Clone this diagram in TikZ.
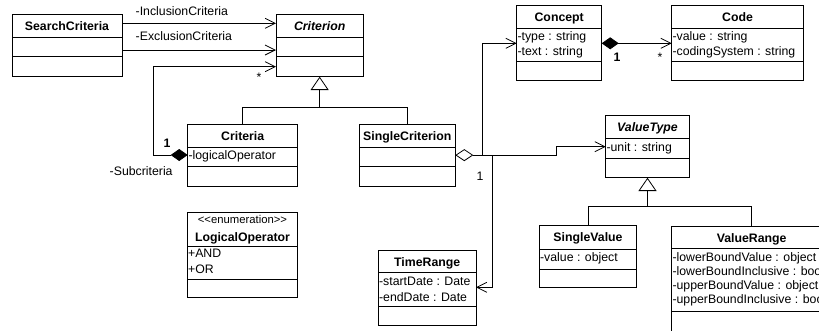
\documentclass[tikz,border=0pt]{standalone}
\usepackage{fontspec}
\setmainfont{Liberation Sans}
\usetikzlibrary{arrows.meta,calc}

\newcommand\txtsize{\fontsize{12.3}{14}\selectfont}

\tikzset{
  cls/.style={draw=black, line width=0.8pt, anchor=north west, inner sep=0pt, outer sep=0pt},
  ttl/.style={font=\txtsize\bfseries, inner sep=0pt, anchor=base},
  ttlit/.style={font=\txtsize\bfseries\itshape, inner sep=0pt, anchor=base},
  attr/.style={font=\txtsize, inner sep=0pt, anchor=base west},
  stereo/.style={font=\fontsize{11.3}{12}\selectfont, inner sep=0pt, anchor=base},
  lbl/.style={font=\txtsize, inner sep=0pt, anchor=base west},
  lblb/.style={font=\txtsize\bfseries, inner sep=0pt, anchor=base west},
  conn/.style={line width=0.8pt, draw=black},
  assoc/.style={conn, -{Straight Barb[length=10pt,width=10pt]}},
  gen/.style={conn, -{Triangle[open,length=13.3pt,width=18pt,fill=white]}},
  comp/.style={conn, {Diamond[length=17pt,width=12pt]}-{Straight Barb[length=10pt,width=10pt]}},
  agg/.style={conn, {Diamond[open,length=18pt,width=12pt,fill=white]}-{Straight Barb[length=10pt,width=10pt]}},
}

% class box: name, x1, y1, x2, y2, first and second compartment line
\newcommand\umlclass[7]{%
  \node[cls, minimum width={#4pt-#2pt}, minimum height={#5pt-#3pt}] (#1) at (#2,#3) {};
  \draw[conn] (#2,#6) -- (#4,#6);
  \draw[conn] (#2,#7) -- (#4,#7);
}

\begin{document}
\begin{tikzpicture}[x=1pt,y=-1pt]
\useasboundingbox (0,0) rectangle (819,330);
\clip (0,0) rectangle (819,330);

% ---- classes ----
\umlclass{sc}{12}{14.3}{122}{76.7}{37.3}{56.7}
\node[ttl] (scT) at (67,30.3) {SearchCriteria};

\umlclass{crit}{276}{14.3}{363.3}{76.7}{37.3}{56.7}
\node[ttlit] (critT) at (319.65,30.3) {Criterion};

\umlclass{concept}{516.7}{5}{601.7}{80.7}{28.3}{61.7}
\node[ttl] (conceptT) at (559.2,21) {Concept};
\node[attr] (conceptA1) at (517.3,40.2) {-type : string};
\node[attr] (conceptA2) at (517.3,55) {-text : string};

\umlclass{code}{671.7}{5}{803.3}{80.7}{28.3}{61.7}
\node[ttl] (codeT) at (737.5,21) {Code};
\node[attr] (codeA1) at (672.3,40.2) {-value : string};
\node[attr] (codeA2) at (672.3,55) {-codingSystem : string};

\umlclass{criteria}{187.7}{124.3}{297.7}{186}{147.3}{166.7}
\node[ttl] (criteriaT) at (242.7,140.3) {Criteria};
\node[attr] (criteriaA1) at (188.3,159.4) {-logicalOperator};

\umlclass{single}{359.3}{124.3}{455.3}{186}{147.3}{166.7}
\node[ttl] (singleT) at (407.3,140.3) {SingleCriterion};

\umlclass{vtype}{605.7}{115.7}{689.3}{177.7}{138.3}{158.3}
\node[ttlit] (vtypeT) at (647.5,131.5) {ValueType};
\node[attr] (vtypeA1) at (606.3,151) {-unit : string};

\umlclass{logop}{187.3}{212.7}{297.7}{297.7}{246}{279}
\node[stereo] (logopS) at (242.5,223.8) {<{}<enumeration>{}>};
\node[ttl] (logopT) at (242.5,241) {LogicalOperator};
\node[attr] (logopA1) at (187.9,257.8) {+AND};
\node[attr] (logopA2) at (187.9,273.5) {+OR};

\umlclass{trange}{378.3}{250}{476}{325}{272.7}{306}
\node[ttl] (trangeT) at (427.2,266.3) {TimeRange};
\node[attr] (trangeA1) at (378.9,285.4) {-startDate : Date};
\node[attr] (trangeA2) at (378.9,301) {-endDate : Date};

\umlclass{svalue}{539.3}{225.7}{636.7}{287.7}{249.3}{269.3}
\node[ttl] (svalueT) at (588,241.5) {SingleValue};
\node[attr] (svalueA1) at (539.9,261) {-value : object};

\umlclass{vrange}{671.7}{226.7}{831.7}{360}{248.3}{311.7}
\node[ttl] (vrangeT) at (751.7,242.5) {ValueRange};
\node[attr] (vrangeA1) at (672.3,261) {-lowerBoundValue : object};
\node[attr] (vrangeA2) at (672.3,275.3) {-lowerBoundInclusive : boolean};
\node[attr] (vrangeA3) at (672.3,289.5) {-upperBoundValue : object};
\node[attr] (vrangeA4) at (672.3,303.7) {-upperBoundInclusive : boolean};

% ---- associations from SearchCriteria ----
\draw[assoc] ($(sc.north east)+(0,9)$) -- ($(crit.north west)+(0,9)$);
\draw[assoc] ($(sc.north east)+(0,35.7)$) -- ($(crit.north west)+(0,35.7)$);
\node[lbl] (inclL) at (135.5,15.4) {-InclusionCriteria};
\node[lbl] (exclL) at (135.5,40) {-ExclusionCriteria};

% ---- Criteria composed of sub-criteria ----
\draw[comp] ($(criteria.north west)+(0,30.7)$) -- ++(-34.4,0) |- ($(crit.north west)+(0,52.4)$);
\node[lblb] (subOne) at (163.5,147.7) {1};
\node[lbl] (subStar) at (256.3,81.5) {*};
\node[lbl] (subL) at (109.5,175) {-Subcriteria};

% ---- Criterion generalisation ----
\coordinate (g1) at ($(crit.south)+(0,30.6)$);
\draw[conn] (criteria.north) |- (g1) -| (single.north);
\draw[gen] (g1) -- (crit.south);

% ---- SingleCriterion associations ----
\coordinate (j1) at ($(single.east)+(27,0)$);
\coordinate (j2) at ($(single.east)+(37.4,0)$);
\draw[agg] (single.east) -- (j1) |- ($(concept.north west)+(0,38.3)$);
\draw[assoc] (j1) -- ++(74.4,0) |- ($(vtype.north west)+(0,31)$);
\draw[assoc] (j2) |- ($(trange.north east)+(0,37.3)$);
\node[lbl] (singleOne) at (476.5,180.4) {1};

% ---- Concept composed of codes ----
\draw[comp] ($(concept.north east)+(0,38.3)$) -- ($(code.north west)+(0,38.3)$);
\node[lblb] (conceptOne) at (613.5,61) {1};
\node[lbl] (codeStar) at (657.5,61) {*};

% ---- ValueType generalisation ----
\coordinate (g2) at ($(vtype.south)+(0,29)$);
\draw[conn] (svalue.north) |- (g2) -| (vrange.north);
\draw[gen] (g2) -- (vtype.south);
\end{tikzpicture}
\end{document}
